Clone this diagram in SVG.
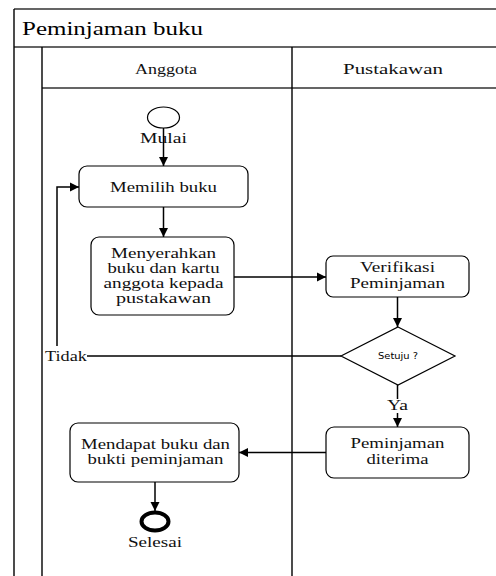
<svg xmlns="http://www.w3.org/2000/svg" width="496" height="576" viewBox="0 0 496 576">
  <style>
    .frame { fill: none; stroke: #000; stroke-width: 1.4; }
    .hline { fill: none; stroke: #333; stroke-width: 1.4; }
    .node { fill: #fff; stroke: #000; stroke-width: 1.2; }
    .edge { fill: none; stroke: #000; stroke-width: 1.5; }
    .t { font-family: "Liberation Serif", "Times New Roman", serif; font-size: 14px; fill: #111; text-anchor: middle; }
    .title { font-family: "Liberation Serif", "Times New Roman", serif; font-size: 18.5px; fill: #000; }
    .small { font-family: "DejaVu Sans", Verdana, sans-serif; font-size: 8.5px; fill: #000; text-anchor: middle; }
  </style>
  <defs>
    <marker id="arrow" markerUnits="userSpaceOnUse" markerWidth="10" markerHeight="10" refX="9" refY="5" orient="auto">
      <path d="M0,0.5 L9,5 L0,9.5 Z" fill="#000"/>
    </marker>
  </defs>

  <rect width="496" height="576" fill="#fff"/>

  <!-- pool and swimlanes -->
  <g id="pool">
    <path class="hline" d="M14,9 H497 M14,47 H497 M42,88 H497"/>
    <path class="frame" d="M14,9 V577 M42,47 V577 M292,47 V577"/>
    <text class="title" x="22" y="35" textLength="181" lengthAdjust="spacingAndGlyphs">Peminjaman buku</text>
    <text class="t" x="166" y="74" textLength="62" lengthAdjust="spacingAndGlyphs">Anggota</text>
    <text class="t" x="393" y="74" textLength="100" lengthAdjust="spacingAndGlyphs">Pustakawan</text>
  </g>

  <g id="start">
    <ellipse class="node" cx="163.5" cy="117.5" rx="16" ry="10.5"/>
    <text class="t" x="163.5" y="143" textLength="47" lengthAdjust="spacingAndGlyphs">Mulai</text>
  </g>

  <g id="memilih-buku">
    <rect class="node" x="79" y="166" width="169" height="41" rx="8"/>
    <text class="t" x="163.5" y="192" textLength="107" lengthAdjust="spacingAndGlyphs">Memilih buku</text>
  </g>

  <g id="menyerahkan">
    <rect class="node" x="91" y="237" width="143" height="78" rx="8"/>
    <text class="t" x="163.5" y="258" textLength="105" lengthAdjust="spacingAndGlyphs">Menyerahkan</text>
    <text class="t" x="163.5" y="273" textLength="112" lengthAdjust="spacingAndGlyphs">buku dan kartu</text>
    <text class="t" x="163.5" y="288" textLength="120" lengthAdjust="spacingAndGlyphs">anggota kepada</text>
    <text class="t" x="163.5" y="303" textLength="95" lengthAdjust="spacingAndGlyphs">pustakawan</text>
  </g>

  <g id="verifikasi">
    <rect class="node" x="326" y="256" width="143" height="41" rx="7"/>
    <text class="t" x="397.5" y="272" textLength="75" lengthAdjust="spacingAndGlyphs">Verifikasi</text>
    <text class="t" x="397.5" y="288" textLength="95" lengthAdjust="spacingAndGlyphs">Peminjaman</text>
  </g>

  <g id="setuju">
    <polygon class="node" points="398,327 455,356 398,385 341,356"/>
    <text class="small" x="398" y="359" textLength="40" lengthAdjust="spacingAndGlyphs">Setuju ?</text>
  </g>

  <g id="diterima">
    <rect class="node" x="326" y="427" width="143" height="51" rx="8"/>
    <text class="t" x="397.5" y="448" textLength="94" lengthAdjust="spacingAndGlyphs">Peminjaman</text>
    <text class="t" x="397.5" y="464" textLength="62" lengthAdjust="spacingAndGlyphs">diterima</text>
  </g>

  <g id="mendapat">
    <rect class="node" x="70" y="423" width="169" height="59" rx="8"/>
    <text class="t" x="155.5" y="449" textLength="149" lengthAdjust="spacingAndGlyphs">Mendapat buku dan</text>
    <text class="t" x="155.5" y="464" textLength="136" lengthAdjust="spacingAndGlyphs">bukti peminjaman</text>
  </g>

  <g id="selesai">
    <ellipse cx="155" cy="521.5" rx="13.5" ry="9" fill="#fff" stroke="#000" stroke-width="4"/>
    <text class="t" x="155" y="547" textLength="54" lengthAdjust="spacingAndGlyphs">Selesai</text>
  </g>

  <!-- connectors (drawn last so the start line crosses the "Mulai" label) -->
  <g id="connectors">
    <path class="edge" d="M163.5,128 V166" marker-end="url(#arrow)"/>
    <path class="edge" d="M163.5,207 V237" marker-end="url(#arrow)"/>
    <path class="edge" d="M234,277 H326" marker-end="url(#arrow)"/>
    <path class="edge" d="M397.5,297 V327" marker-end="url(#arrow)"/>
    <path class="edge" d="M341,356 H87"/>
    <path class="edge" d="M57,346 V187 H79" marker-end="url(#arrow)"/>
    <path class="edge" d="M397.5,385 V399"/>
    <path class="edge" d="M397.5,413 V427" marker-end="url(#arrow)"/>
    <path class="edge" d="M326,452.5 H239" marker-end="url(#arrow)"/>
    <path class="edge" d="M155,482 V511" marker-end="url(#arrow)"/>
    <text class="t" x="66" y="360.5" textLength="42" lengthAdjust="spacingAndGlyphs">Tidak</text>
    <text class="t" x="397.5" y="410" textLength="21" lengthAdjust="spacingAndGlyphs">Ya</text>
  </g>
</svg>
